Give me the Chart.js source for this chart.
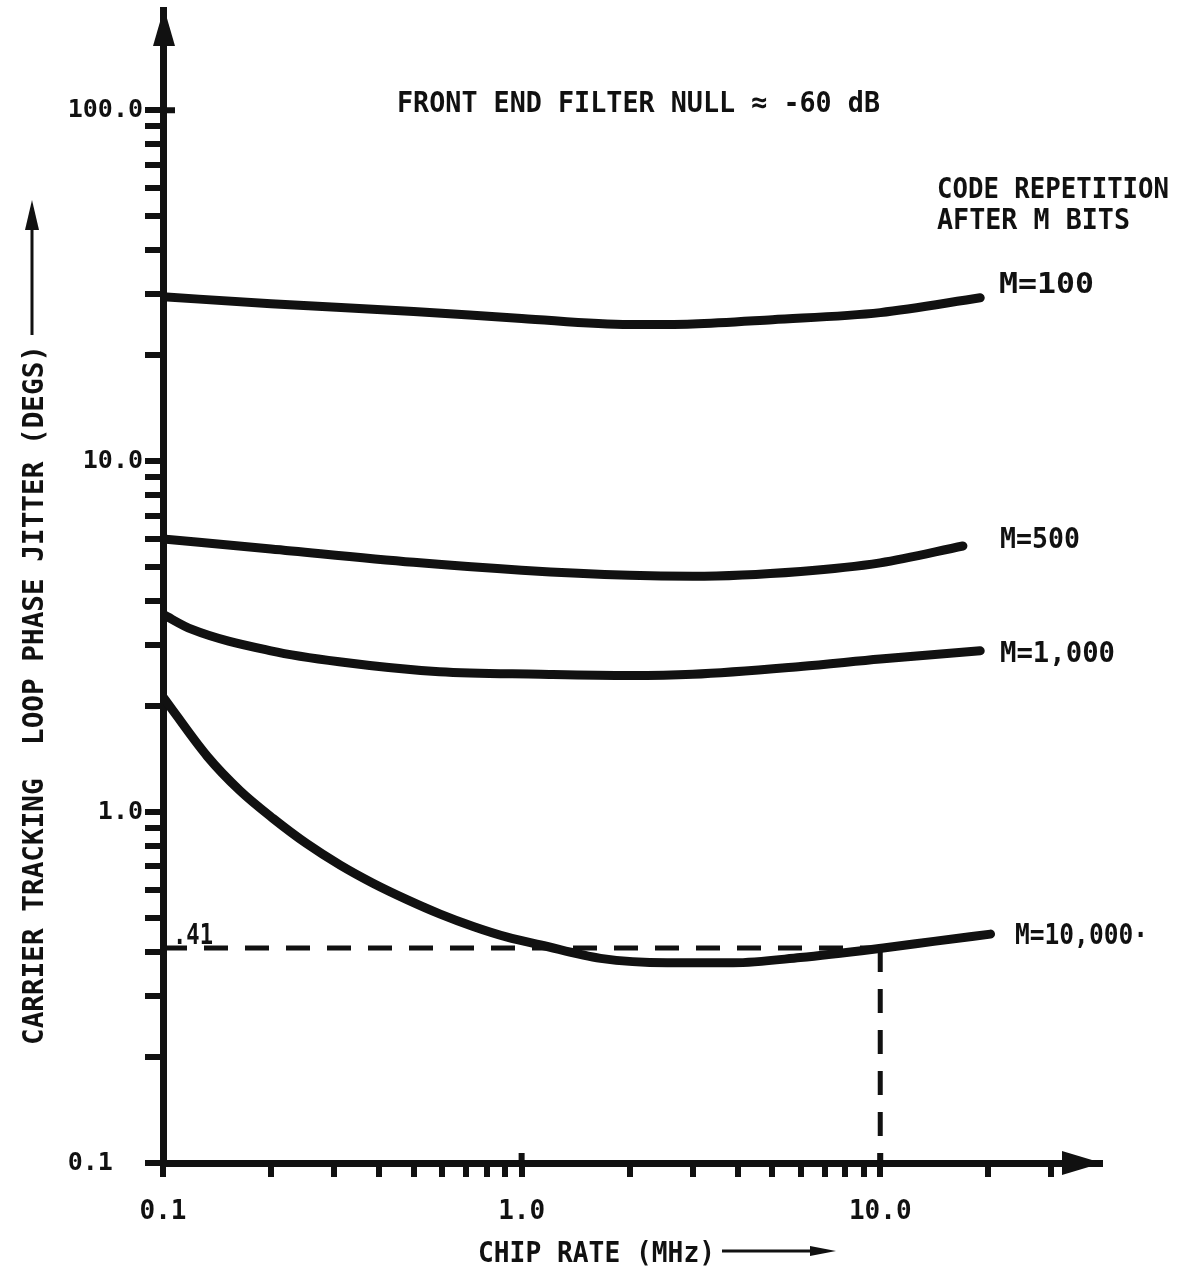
<!DOCTYPE html>
<html>
<head>
<meta charset="utf-8">
<title>Carrier tracking loop phase jitter vs chip rate</title>
<script src="https://cdn.jsdelivr.net/npm/chart.js@4.4.1/dist/chart.umd.min.js"></script>
<style>
  html, body { margin: 0; padding: 0; background: #fff; }
  #wrap { width: 1179px; height: 1270px; }
</style>
</head>
<body>
<div id="wrap"><canvas id="jitter" width="1179" height="1270"></canvas></div>
<script>
// Chip rate (MHz) and loop phase jitter (degrees) for each code repetition length M.
const chipRate100 = [0.1, 0.2, 0.5, 1, 2, 3, 5, 10, 19];
const jitter100 = [29.4, 28.1, 26.7, 25.5, 24.5, 24.6, 25.3, 26.5, 29.2];

const chipRate500 = [0.1, 0.2, 0.5, 1, 2, 3, 6, 10, 17];
const jitter500 = [6.0, 5.62, 5.15, 4.89, 4.73, 4.70, 4.85, 5.13, 5.73];

const chipRate1k = [0.1, 0.12, 0.2, 0.31, 0.59, 1.13, 2, 3, 6, 10, 19];
const jitter1k = [3.66, 3.32, 2.88, 2.68, 2.51, 2.47, 2.45, 2.47, 2.60, 2.73, 2.88];

const chipRate10k = [0.1, 0.133, 0.164, 0.203, 0.252, 0.312, 0.385, 0.479, 0.593, 0.733,
                     0.912, 1.13, 1.66, 2.55, 3.89, 5.98, 10.2, 14.1, 20.3];
const jitter10k = [2.13, 1.44, 1.15, 0.958, 0.812, 0.706, 0.627, 0.563, 0.512, 0.472,
                   0.440, 0.418, 0.383, 0.372, 0.372, 0.385, 0.410, 0.428, 0.449];

const refRate = 10;
const refJitter = 0.41;

// Axis ticks.
const xMajorValues = [0.1, 1, 10];
const xMajorLabels = ["0.1", "1.0", "10.0"];
const xMinorValues = [0.2, 0.3, 0.4, 0.5, 0.6, 0.7, 0.8, 0.9, 2, 3, 4, 5, 6, 7, 8, 9, 20, 30];
const yMajorValues = [0.1, 1, 10, 100];
const yMajorLabels = ["0.1  ", "1.0", "10.0", "100.0"];
const yMinorValues = [0.2, 0.3, 0.4, 0.5, 0.6, 0.7, 0.8, 0.9, 2, 3, 4, 5, 6, 7, 8, 9,
                      20, 30, 40, 50, 60, 70, 80, 90];

const INK = "#111";
const FONT = "'DejaVu Sans Mono', monospace";

function points(xs, ys) {
    return xs.map((x, i) => ({ x: x, y: ys[i] }));
}

function curve(xs, ys) {
    return {
        data: points(xs, ys),
        borderColor: INK,
        borderWidth: 9,
        borderCapStyle: "round",
        borderJoinStyle: "round",
        cubicInterpolationMode: "monotone",
        pointRadius: 0,
        fill: false
    };
}

function dashed(xs, ys) {
    return {
        data: points(xs, ys),
        borderColor: INK,
        borderWidth: 5,
        borderDash: [24, 17],
        pointRadius: 0,
        tension: 0,
        fill: false
    };
}

// Draw text squeezed to a given width (lettering is narrower than the font).
function fitText(ctx, text, x, y, width, size, angle) {
    ctx.save();
    ctx.font = "bold " + size + "px " + FONT;
    ctx.fillStyle = INK;
    ctx.textBaseline = "alphabetic";
    ctx.textAlign = "left";
    ctx.translate(x, y);
    if (angle) ctx.rotate(angle);
    const w = ctx.measureText(text).width;
    ctx.scale(width / w, 1);
    ctx.fillText(text, 0, 0);
    ctx.restore();
}

function arrowHead(ctx, tipX, tipY, dx, dy, len, half) {
    // dx, dy: unit direction the arrow points to
    const bx = tipX - dx * len, by = tipY - dy * len;
    ctx.beginPath();
    ctx.moveTo(tipX, tipY);
    ctx.lineTo(bx - dy * half, by + dx * half);
    ctx.lineTo(bx + dy * half, by - dx * half);
    ctx.closePath();
    ctx.fill();
}

const annotations = [
    { text: "FRONT END FILTER NULL \u2248 -60 dB", x: 397, y: 112, w: 483, size: 29 },
    { text: "CODE REPETITION", x: 937, y: 198, w: 232, size: 29 },
    { text: "AFTER M BITS", x: 937, y: 229, w: 193, size: 29 },
    { text: "M=100", x: 999, y: 293, w: 95, size: 29 },
    { text: "M=500", x: 1000, y: 548, w: 80, size: 29 },
    { text: "M=1,000", x: 1000, y: 662, w: 115, size: 29 },
    { text: "M=10,000\u00b7", x: 1015, y: 944, w: 133, size: 29 },
    { text: ".41", x: 173, y: 944, w: 40, size: 29 },
    { text: "CHIP RATE (MHz)", x: 478, y: 1262, w: 237, size: 29 }
];

const decorations = {
    id: "decorations",
    afterDraw(chart) {
        const ctx = chart.ctx;
        const { left, right, top, bottom } = chart.chartArea;
        const xs = chart.scales.x, ys = chart.scales.y;
        ctx.save();
        ctx.fillStyle = INK;
        ctx.strokeStyle = INK;

        // arrow heads on both axes
        arrowHead(ctx, left + 1, top - 2, 0, -1, 38, 11);
        arrowHead(ctx, right + 2, bottom, 1, 0, 40, 12);

        // major ticks poke through the axis
        ctx.lineWidth = 6;
        ctx.beginPath();
        ctx.moveTo(left, ys.getPixelForValue(100));
        ctx.lineTo(left + 12, ys.getPixelForValue(100));
        [1, 10].forEach(v => {
            ctx.moveTo(xs.getPixelForValue(v), bottom);
            ctx.lineTo(xs.getPixelForValue(v), bottom - 10);
        });
        ctx.stroke();

        annotations.forEach(a => fitText(ctx, a.text, a.x, a.y, a.w, a.size));

        // y axis title, read bottom to top
        fitText(ctx, "CARRIER TRACKING  LOOP PHASE JITTER (DEGS)", 43, 1045, 700, 29, -Math.PI / 2);

        // direction arrows next to the axis titles
        ctx.lineWidth = 3;
        ctx.beginPath();
        ctx.moveTo(32, 335);
        ctx.lineTo(32, 225);
        ctx.moveTo(722, 1251);
        ctx.lineTo(815, 1251);
        ctx.stroke();
        arrowHead(ctx, 32, 200, 0, -1, 30, 7);
        arrowHead(ctx, 836, 1251, 1, 0, 26, 5);
        ctx.restore();
    }
};

new Chart(document.getElementById("jitter"), {
    type: "line",
    data: {
        datasets: [
            curve(chipRate100, jitter100),
            curve(chipRate500, jitter500),
            curve(chipRate1k, jitter1k),
            curve(chipRate10k, jitter10k),
            dashed([xMajorValues[0], refRate], [refJitter, refJitter]),
            dashed([refRate, refRate], [refJitter, yMajorValues[0]])
        ]
    },
    options: {
        responsive: false,
        animation: false,
        events: [],
        layout: { padding: { top: 10, right: 79, left: 0, bottom: 0 } },
        plugins: {
            legend: { display: false },
            tooltip: { enabled: false }
        },
        scales: {
            x: {
                type: "logarithmic",
                min: 0.1,
                max: 41,
                afterFit: scale => {
                    scale.height = 107;
                    scale.paddingLeft = 0;
                    scale.paddingRight = 0;
                },
                afterBuildTicks: scale => {
                    scale.ticks = xMajorValues.concat(xMinorValues)
                        .sort((a, b) => a - b)
                        .map(v => ({ value: v }));
                },
                grid: { drawOnChartArea: false, color: INK, lineWidth: 6, tickLength: 14 },
                border: { color: INK, width: 7 },
                ticks: {
                    autoSkip: false,
                    maxRotation: 0,
                    padding: 20,
                    color: INK,
                    font: { family: FONT, size: 26, weight: "bold" },
                    callback: v => {
                        const i = xMajorValues.indexOf(v);
                        return i < 0 ? "" : xMajorLabels[i];
                    }
                }
            },
            y: {
                type: "logarithmic",
                min: 0.1,
                max: 193,
                afterFit: scale => {
                    // labels never reach the ends of the axis, so no overhang padding
                    scale.width = 163;
                    scale.paddingTop = 0;
                    scale.paddingBottom = 0;
                },
                afterBuildTicks: scale => {
                    scale.ticks = yMajorValues.concat(yMinorValues)
                        .sort((a, b) => a - b)
                        .map(v => ({ value: v }));
                },
                grid: { drawOnChartArea: false, color: INK, lineWidth: 6, tickLength: 18 },
                border: { color: INK, width: 7 },
                ticks: {
                    autoSkip: false,
                    padding: 2,
                    color: INK,
                    font: { family: FONT, size: 25, weight: "bold" },
                    callback: v => {
                        const i = yMajorValues.indexOf(v);
                        return i < 0 ? "" : yMajorLabels[i];
                    }
                }
            }
        }
    },
    plugins: [decorations]
});
</script>
</body>
</html>
